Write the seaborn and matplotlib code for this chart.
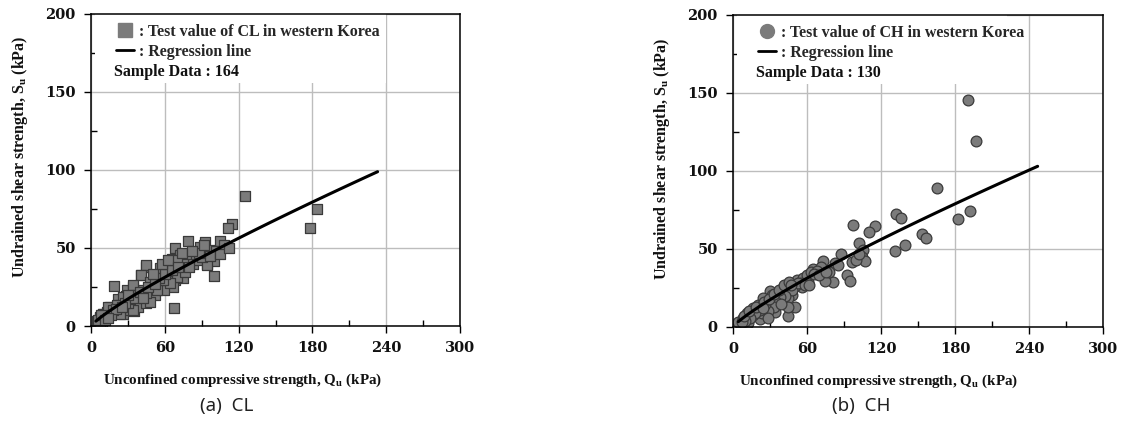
import numpy as np
import pandas as pd
import matplotlib
matplotlib.use("Agg")
import matplotlib.pyplot as plt
from matplotlib.lines import Line2D
from matplotlib.patches import Rectangle
import seaborn as sns

# CL (left panel): unconfined compressive strength Qu vs undrained shear strength Su, kPa
cl_qu = [125, 183.5, 178, 115, 111, 78.6, 93, 104.6, 68.3, 89, 96.7, 80.5, 66, 94, 100,
         99.7, 44.7, 56.6, 40.7, 67.8, 19, 48.5, 35, 38.5, 22, 28.5, 5, 7, 9, 12, 10, 7.3,
         68, 75, 56, 61.5, 50.7, 42.5, 29, 34.4, 23.6, 15.4, 12.7, 9.5, 26, 31.7, 45, 52,
         64, 72.4, 83, 86, 67, 59, 45, 41, 56, 34.4, 26, 14, 7.3, 48, 34.4, 23.6, 69.6,
         76.4, 72.4, 94, 64, 53.4, 21, 30.3, 58.8, 45, 85, 90, 102, 108, 75, 70, 62, 55,
         48, 38, 32, 28, 18, 16, 20, 25, 36, 40, 46, 52, 60, 66, 80, 88, 97, 105, 112, 74,
         6, 8, 11, 14, 30, 42, 50, 58, 63, 71, 82, 92]
cl_su = [83, 75, 63, 65, 63, 54.7, 54, 54.3, 50, 50.5, 48.6, 44.3, 43, 39.4, 41.5,
         32, 38, 36.8, 32.4, 11.3, 25.5, 20.2, 9.6, 12, 17, 19.4, 3, 5, 2, 6, 8, 2.8,
         29.4, 30.5, 25, 32.6, 27.3, 23, 23, 25, 13.4, 12.3, 9, 8, 8, 10.2, 14.5, 19.8,
         38, 35.8, 40, 42.5, 25, 23, 39, 32.6, 37, 26.2, 18.7, 12.3, 6, 15.5, 10.2, 8, 31.5,
         34.7, 45.4, 39, 27.3, 23, 13.4, 14.5, 29.4, 21, 46, 44, 48, 52, 40, 42, 35, 31,
         28, 20, 17, 15, 10, 7, 11, 12, 18, 22, 25, 27, 33, 36, 38, 47, 45, 46, 50, 47,
         4, 7, 4, 5, 20, 18, 33, 40, 42, 38, 48, 52]

# CH (right panel)
ch_qu = [190.3, 197, 165.1, 192.2, 182.2, 131.9, 136.2, 97, 115.1, 110.3, 153, 156.5,
         139.5, 131.4, 102.2, 105.7, 104.3, 107, 87.6, 96.2, 82.7, 73.2, 65.1, 71.1, 92.2,
         94.9, 81.3, 74.6, 61, 51.6, 57, 43.5, 30, 40.8, 47.6, 55.7, 44.9, 50.3, 44.3,
         44.9, 34, 21.9, 12.4, 4.3, 16.5, 23.3, 27.3, 20.5, 24.6, 31.4, 38.9, 36.7, 30,
         16.5, 11.1, 8.4, 60, 63, 68, 55, 50, 48, 42, 38, 35, 33, 28, 26, 22, 18, 14, 10,
         7, 9, 13, 19, 25, 29, 33, 37, 41, 45, 53, 58, 66, 70, 78, 85, 100, 102, 75, 62,
         47, 39, 28, 24]
ch_su = [145.5, 118.8, 89.3, 74.6, 69.2, 72.2, 70.1, 65.4, 65, 61.1, 59.6, 57,
         52.6, 48.7, 53.6, 49.4, 45.1, 42.5, 46.8, 41.9, 41.2, 42.3, 37, 38.3, 33.3,
         29.5, 29, 29.7, 29, 30.1, 31.2, 23.7, 23.3, 24.8, 20.5, 25.8, 18.4, 12.6, 7,
         12.6, 9.8, 4.9, 2.4, 3.4, 7.7, 8.8, 12, 14.1, 18.4, 20.5, 22.4, 17.3, 14.8,
         12, 8.8, 5.6, 33, 35, 36, 28, 26, 24, 20, 19, 16, 13, 10, 15, 11, 9, 6, 4,
         3, 7, 10, 13, 16, 18, 21, 24, 27, 29, 28, 27, 34, 33, 35, 40, 43, 47, 35, 27,
         27, 15, 6, 12]

# regression lines Su = a * Qu ** b, drawn over the given Qu range
cl_fit = {"a": 0.96, "b": 0.85, "qu_min": 4, "qu_max": 233}
ch_fit = {"a": 0.995, "b": 0.842, "qu_min": 4.3, "qu_max": 247}

x_ticks = [0, 60, 120, 180, 240, 300]
y_ticks = [0, 50, 100, 150, 200]

panels = [
    dict(qu=cl_qu, su=cl_su, fit=cl_fit, marker="s", soil="CL", n=164, caption="(a)  CL",
         rect=[91 / 1125, 1 - 326 / 426, 369 / 1125, 312.5 / 426], box_w=0.79,
         xlab_x=0.412, cap_x=227 / 1125),
    dict(qu=ch_qu, su=ch_su, fit=ch_fit, marker="o", soil="CH", n=130, caption="(b)  CH",
         rect=[733 / 1125, 1 - 327 / 426, 370 / 1125, 312.3 / 426], box_w=0.73,
         xlab_x=0.392, cap_x=861 / 1125),
]

sns.set_theme(style="whitegrid")
plt.rcParams["font.family"] = ["Liberation Serif", "DejaVu Serif"]
plt.rcParams["mathtext.fontset"] = "custom"
plt.rcParams["mathtext.rm"] = "Liberation Serif"
plt.rcParams["mathtext.bf"] = "Liberation Serif:bold"

fig = plt.figure(figsize=(11.25, 4.26), dpi=100)
fig.patch.set_facecolor("white")

for p in panels:
    ax = fig.add_axes(p["rect"])
    ax.set_axisbelow(False)
    df = pd.DataFrame({"Qu": p["qu"], "Su": p["su"]})
    sns.scatterplot(data=df, x="Qu", y="Su", ax=ax, marker=p["marker"], s=60,
                    color="#7b7b7b", edgecolor="#3a3a3a", linewidth=0.9, zorder=3,
                    legend=False)

    f = p["fit"]
    xs = np.linspace(f["qu_min"], f["qu_max"], 100)
    line = pd.DataFrame({"Qu": xs, "Su": f["a"] * xs ** f["b"]})
    sns.lineplot(data=line, x="Qu", y="Su", ax=ax, color="black", lw=2.2, zorder=4)

    ax.set_xlim(0, 300)
    ax.set_ylim(0, 200)
    ax.set_xticks(x_ticks)
    ax.set_xticks([30, 90, 150, 210, 270], minor=True)
    ax.set_yticks(y_ticks)
    ax.set_yticks([25, 75, 125, 175], minor=True)
    ax.set_xticklabels([str(t) for t in x_ticks])
    ax.set_yticklabels([str(t) for t in y_ticks])
    ax.grid(True, which="major", color="#bdbdbd", lw=1.0)
    ax.grid(False, which="minor")
    ax.set_facecolor("white")
    for s in ax.spines.values():
        s.set_color("black")
        s.set_linewidth(1.1)
        s.set_zorder(5)

    ax.tick_params(which="major", direction="out", length=5, width=1, color="black",
                   labelsize=10.5, pad=6)
    ax.tick_params(which="minor", direction="in", length=4, width=1, color="black")
    ax.tick_params(axis="x", which="both", bottom=True)
    ax.tick_params(axis="y", which="both", left=True)
    for lab in ax.get_xticklabels() + ax.get_yticklabels():
        lab.set_fontweight("bold")
        lab.set_fontfamily("DejaVu Serif")
        lab.set_color("#111111")

    ax.set_xlabel(r"Unconfined compressive strength, Q$_\mathbf{u}$ (kPa)",
                  fontsize=10.8, fontweight="bold", color="#111111")
    ax.set_ylabel(r"Undrained shear strength, S$_\mathbf{u}$ (kPa)",
                  fontsize=11.5, fontweight="bold", color="#111111")
    ax.xaxis.set_label_coords(p["xlab_x"], -0.146)
    ax.yaxis.set_label_coords(-0.165, 0.54)

    # white area behind the legend block, above the grid lines
    ax.add_patch(Rectangle((0.01, 0.778), p["box_w"], 0.222, transform=ax.transAxes,
                           facecolor="white", edgecolor="none", zorder=2.6))

    handles = [
        Line2D([], [], marker=p["marker"], ls="none", markersize=10,
               markerfacecolor="#7b7b7b", markeredgecolor="#7b7b7b"),
        Line2D([], [], color="black", lw=2),
    ]
    labels = [f": Test value of {p['soil']} in western Korea", ": Regression line"]
    ax.legend(handles, labels, loc="upper left", bbox_to_anchor=(0.045, 0.995),
              frameon=False, handlelength=1.1, handletextpad=0.3, labelspacing=0.25,
              borderaxespad=0.15, prop={"weight": "bold", "size": 11.5})
    ax.text(0.062, 0.814, f"Sample Data : {p['n']}", transform=ax.transAxes,
            fontsize=11.5, fontweight="bold", color="#111111", va="center", ha="left",
            zorder=6)

    fig.text(p["cap_x"], 1 - 406 / 426, p["caption"], ha="center", va="center",
             fontsize=13.5, family=["Noto Sans", "DejaVu Sans"], color="#222222")

fig.savefig("out.png", dpi=100, facecolor="white")
